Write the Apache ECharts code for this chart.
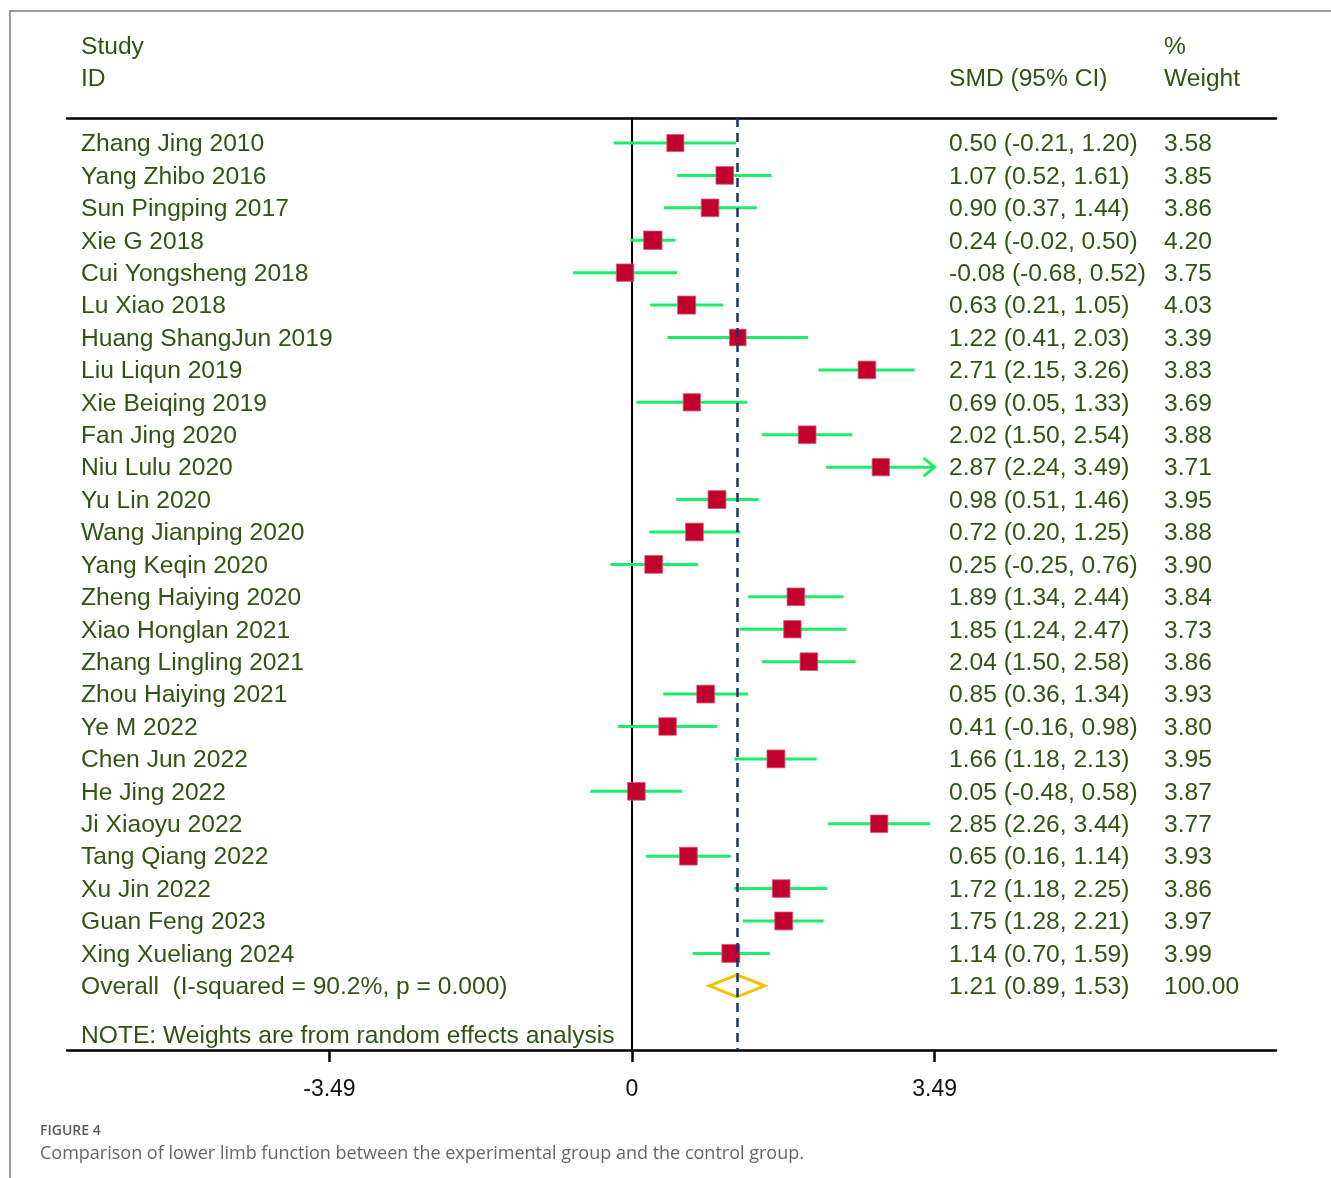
<!DOCTYPE html>
<html><head><meta charset="utf-8">
<script src="https://cdn.jsdelivr.net/npm/echarts@6/dist/echarts.min.js"></script>
<style>html,body{margin:0;padding:0;background:#fff}#c{width:1331px;height:1178px}</style>
</head><body><div id="c"></div>
<script>
const studies = ["Zhang Jing 2010","Yang Zhibo 2016","Sun Pingping 2017","Xie G 2018","Cui Yongsheng 2018","Lu Xiao 2018","Huang ShangJun 2019","Liu Liqun 2019","Xie Beiqing 2019","Fan Jing 2020","Niu Lulu 2020","Yu Lin 2020","Wang Jianping 2020","Yang Keqin 2020","Zheng Haiying 2020","Xiao Honglan 2021","Zhang Lingling 2021","Zhou Haiying 2021","Ye M 2022","Chen Jun 2022","He Jing 2022","Ji Xiaoyu 2022","Tang Qiang 2022","Xu Jin 2022","Guan Feng 2023","Xing Xueliang 2024"];
const smd   = [0.50,1.07,0.90,0.24,-0.08,0.63,1.22,2.71,0.69,2.02,2.87,0.98,0.72,0.25,1.89,1.85,2.04,0.85,0.41,1.66,0.05,2.85,0.65,1.72,1.75,1.14];
const lower = [-0.21,0.52,0.37,-0.02,-0.68,0.21,0.41,2.15,0.05,1.50,2.24,0.51,0.20,-0.25,1.34,1.24,1.50,0.36,-0.16,1.18,-0.48,2.26,0.16,1.18,1.28,0.70];
const upper = [1.20,1.61,1.44,0.50,0.52,1.05,2.03,3.26,1.33,2.54,3.49,1.46,1.25,0.76,2.44,2.47,2.58,1.34,0.98,2.13,0.58,3.44,1.14,2.25,2.21,1.59];
const weights = [3.58,3.85,3.86,4.20,3.75,4.03,3.39,3.83,3.69,3.88,3.71,3.95,3.88,3.90,3.84,3.73,3.86,3.93,3.80,3.95,3.87,3.77,3.93,3.86,3.97,3.99];
const overall = {label:"Overall  (I-squared = 90.2%, p = 0.000)", smd:1.21, lower:0.89, upper:1.53, weight:"100.00"};
const noteText = "NOTE: Weights are from random effects analysis";
const tickValues = [-3.49, 0, 3.49];
const tickLabels = ["-3.49", "0", "3.49"];
const axisMax = 3.49;

const TXT = '#2f5512';
const FONT = '"Liberation Sans", Arial, sans-serif';
const FS = 24.6;
const f2 = v => v.toFixed(2);

const chart = echarts.init(document.getElementById('c'));

const rowData = studies.map((s, i) => [lower[i], upper[i], smd[i], weights[i], i]);
const textData = studies.map((s, i) => [i, s, `${f2(smd[i])} (${f2(lower[i])}, ${f2(upper[i])})`, f2(weights[i])]);
textData.push([studies.length, overall.label, `${f2(overall.smd)} (${f2(overall.lower)}, ${f2(overall.upper)})`, overall.weight]);
textData.push([studies.length + 1.5, noteText, '', '']);

chart.setOption({
  animation: false,
  grid: {left: 67, right: 55, top: 118, bottom: 128},
  xAxis: [{
    type: 'value', position: 'bottom', min: -6.517, max: 7.428,
    splitLine: {show: false},
    axisLine: {show: true, onZero: false, lineStyle: {color: '#000', width: 2.5}},
    axisTick: {show: true, customValues: tickValues, length: 12, inside: false, lineStyle: {color: '#000', width: 2.5}},
    axisLabel: {show: true, customValues: tickValues, margin: 28, color: '#111', fontSize: 23, fontFamily: FONT,
      formatter: v => tickLabels[tickValues.indexOf(v)] ?? String(v)}
  }, {
    type: 'value', position: 'top', min: -6.517, max: 7.428,
    splitLine: {show: false}, axisTick: {show: false}, axisLabel: {show: false},
    axisLine: {show: true, onZero: false, lineStyle: {color: '#000', width: 2.5}}
  }],
  yAxis: {
    type: 'value', inverse: true, min: -0.771, max: 27.98,
    splitLine: {show: false}, axisTick: {show: false}, axisLabel: {show: false},
    axisLine: {show: true, onZero: true, lineStyle: {color: '#000', width: 2}}
  },
  graphic: [
    {type: 'polyline', silent: true, shape: {points: [[10, 1178], [10, 11], [1331, 11]]}, style: {stroke: '#7c7c8c', lineWidth: 1.5, fill: null}},
    {type: 'text', left: 81, top: 35, style: {text: 'Study', fill: TXT, font: `${FS}px ${FONT}`}},
    {type: 'text', left: 81, top: 67, style: {text: 'ID', fill: TXT, font: `${FS}px ${FONT}`}},
    {type: 'text', left: 949, top: 67, style: {text: 'SMD (95% CI)', fill: TXT, font: `${FS}px ${FONT}`}},
    {type: 'text', left: 1164, top: 35, style: {text: '%', fill: TXT, font: `${FS}px ${FONT}`}},
    {type: 'text', left: 1164, top: 67, style: {text: 'Weight', fill: TXT, font: `${FS}px ${FONT}`}},
    {type: 'text', left: 40, top: 1124, style: {text: 'FIGURE 4', fill: '#5a5a5a', font: `600 14px "Open Sans", sans-serif`}},
    {type: 'text', left: 40, top: 1145, style: {text: 'Comparison of lower limb function between the experimental group and the control group.', fill: '#666666', font: `18px "Open Sans", sans-serif`}}
  ],
  series: [
    {
      type: 'custom', coordinateSystem: 'cartesian2d', data: rowData, z: 3,
      renderItem: (params, api) => {
        const lo = api.value(0), hi = api.value(1), m = api.value(2), w = api.value(3), i = api.value(4);
        const clipped = hi >= axisMax;
        const p1 = api.coord([lo, i]);
        const p2 = api.coord([Math.min(hi, axisMax), i]);
        const pm = api.coord([m, i]);
        const side = 9 * Math.sqrt(w);
        const children = [
          {type: 'line', shape: {x1: p1[0], y1: p1[1], x2: p2[0], y2: p2[1]}, style: {stroke: '#1aef6a', lineWidth: 3}}
        ];
        if (clipped) {
          children.push({type: 'polyline', shape: {points: [[p2[0] - 11, p2[1] - 9], [p2[0], p2[1]], [p2[0] - 11, p2[1] + 9]]}, style: {stroke: '#1aef6a', lineWidth: 3, fill: null}});
        }
        children.push({type: 'rect', shape: {x: pm[0] - side / 2, y: pm[1] - side / 2, width: side, height: side}, style: {fill: '#c1002e', stroke: '#d65a78', lineWidth: 0.8}});
        return {type: 'group', children};
      }
    },
    {
      type: 'custom', coordinateSystem: 'cartesian2d', z: 3,
      data: [[overall.lower, overall.upper, overall.smd, studies.length]],
      renderItem: (params, api) => {
        const r = api.value(3);
        const a = api.coord([api.value(0), r]), b = api.coord([api.value(1), r]), c = api.coord([api.value(2), r]);
        const h = 11;
        return {type: 'polygon', shape: {points: [[a[0], a[1]], [c[0], c[1] - h], [b[0], b[1]], [c[0], c[1] + h]]}, style: {fill: null, stroke: '#f6c200', lineWidth: 3}};
      },
      markLine: {
        silent: true, symbol: 'none', label: {show: false},
        lineStyle: {color: '#1c3563', width: 2.5, type: [9, 6]},
        data: [{xAxis: overall.smd}]
      }
    },
    {
      type: 'custom', coordinateSystem: 'cartesian2d', data: textData, z: 4,
      encode: {x: -1, y: 0},
      renderItem: (params, api) => {
        const idx = params.dataIndex;
        const row = textData[idx];
        const y = api.coord([0, row[0]])[1] + 1.5;
        const x0 = params.coordSys.x;
        const mk = (t, x) => ({type: 'text', style: {text: t, x: x, y: y, fill: TXT, font: `${FS}px ${FONT}`, verticalAlign: 'middle', align: 'left'}});
        const ch = [mk(row[1], x0 + 14)];
        if (row[2]) ch.push(mk(row[2], x0 + 882));
        if (row[3]) ch.push(mk(row[3], x0 + 1097));
        return {type: 'group', children: ch};
      }
    }
  ]
});
</script></body></html>
